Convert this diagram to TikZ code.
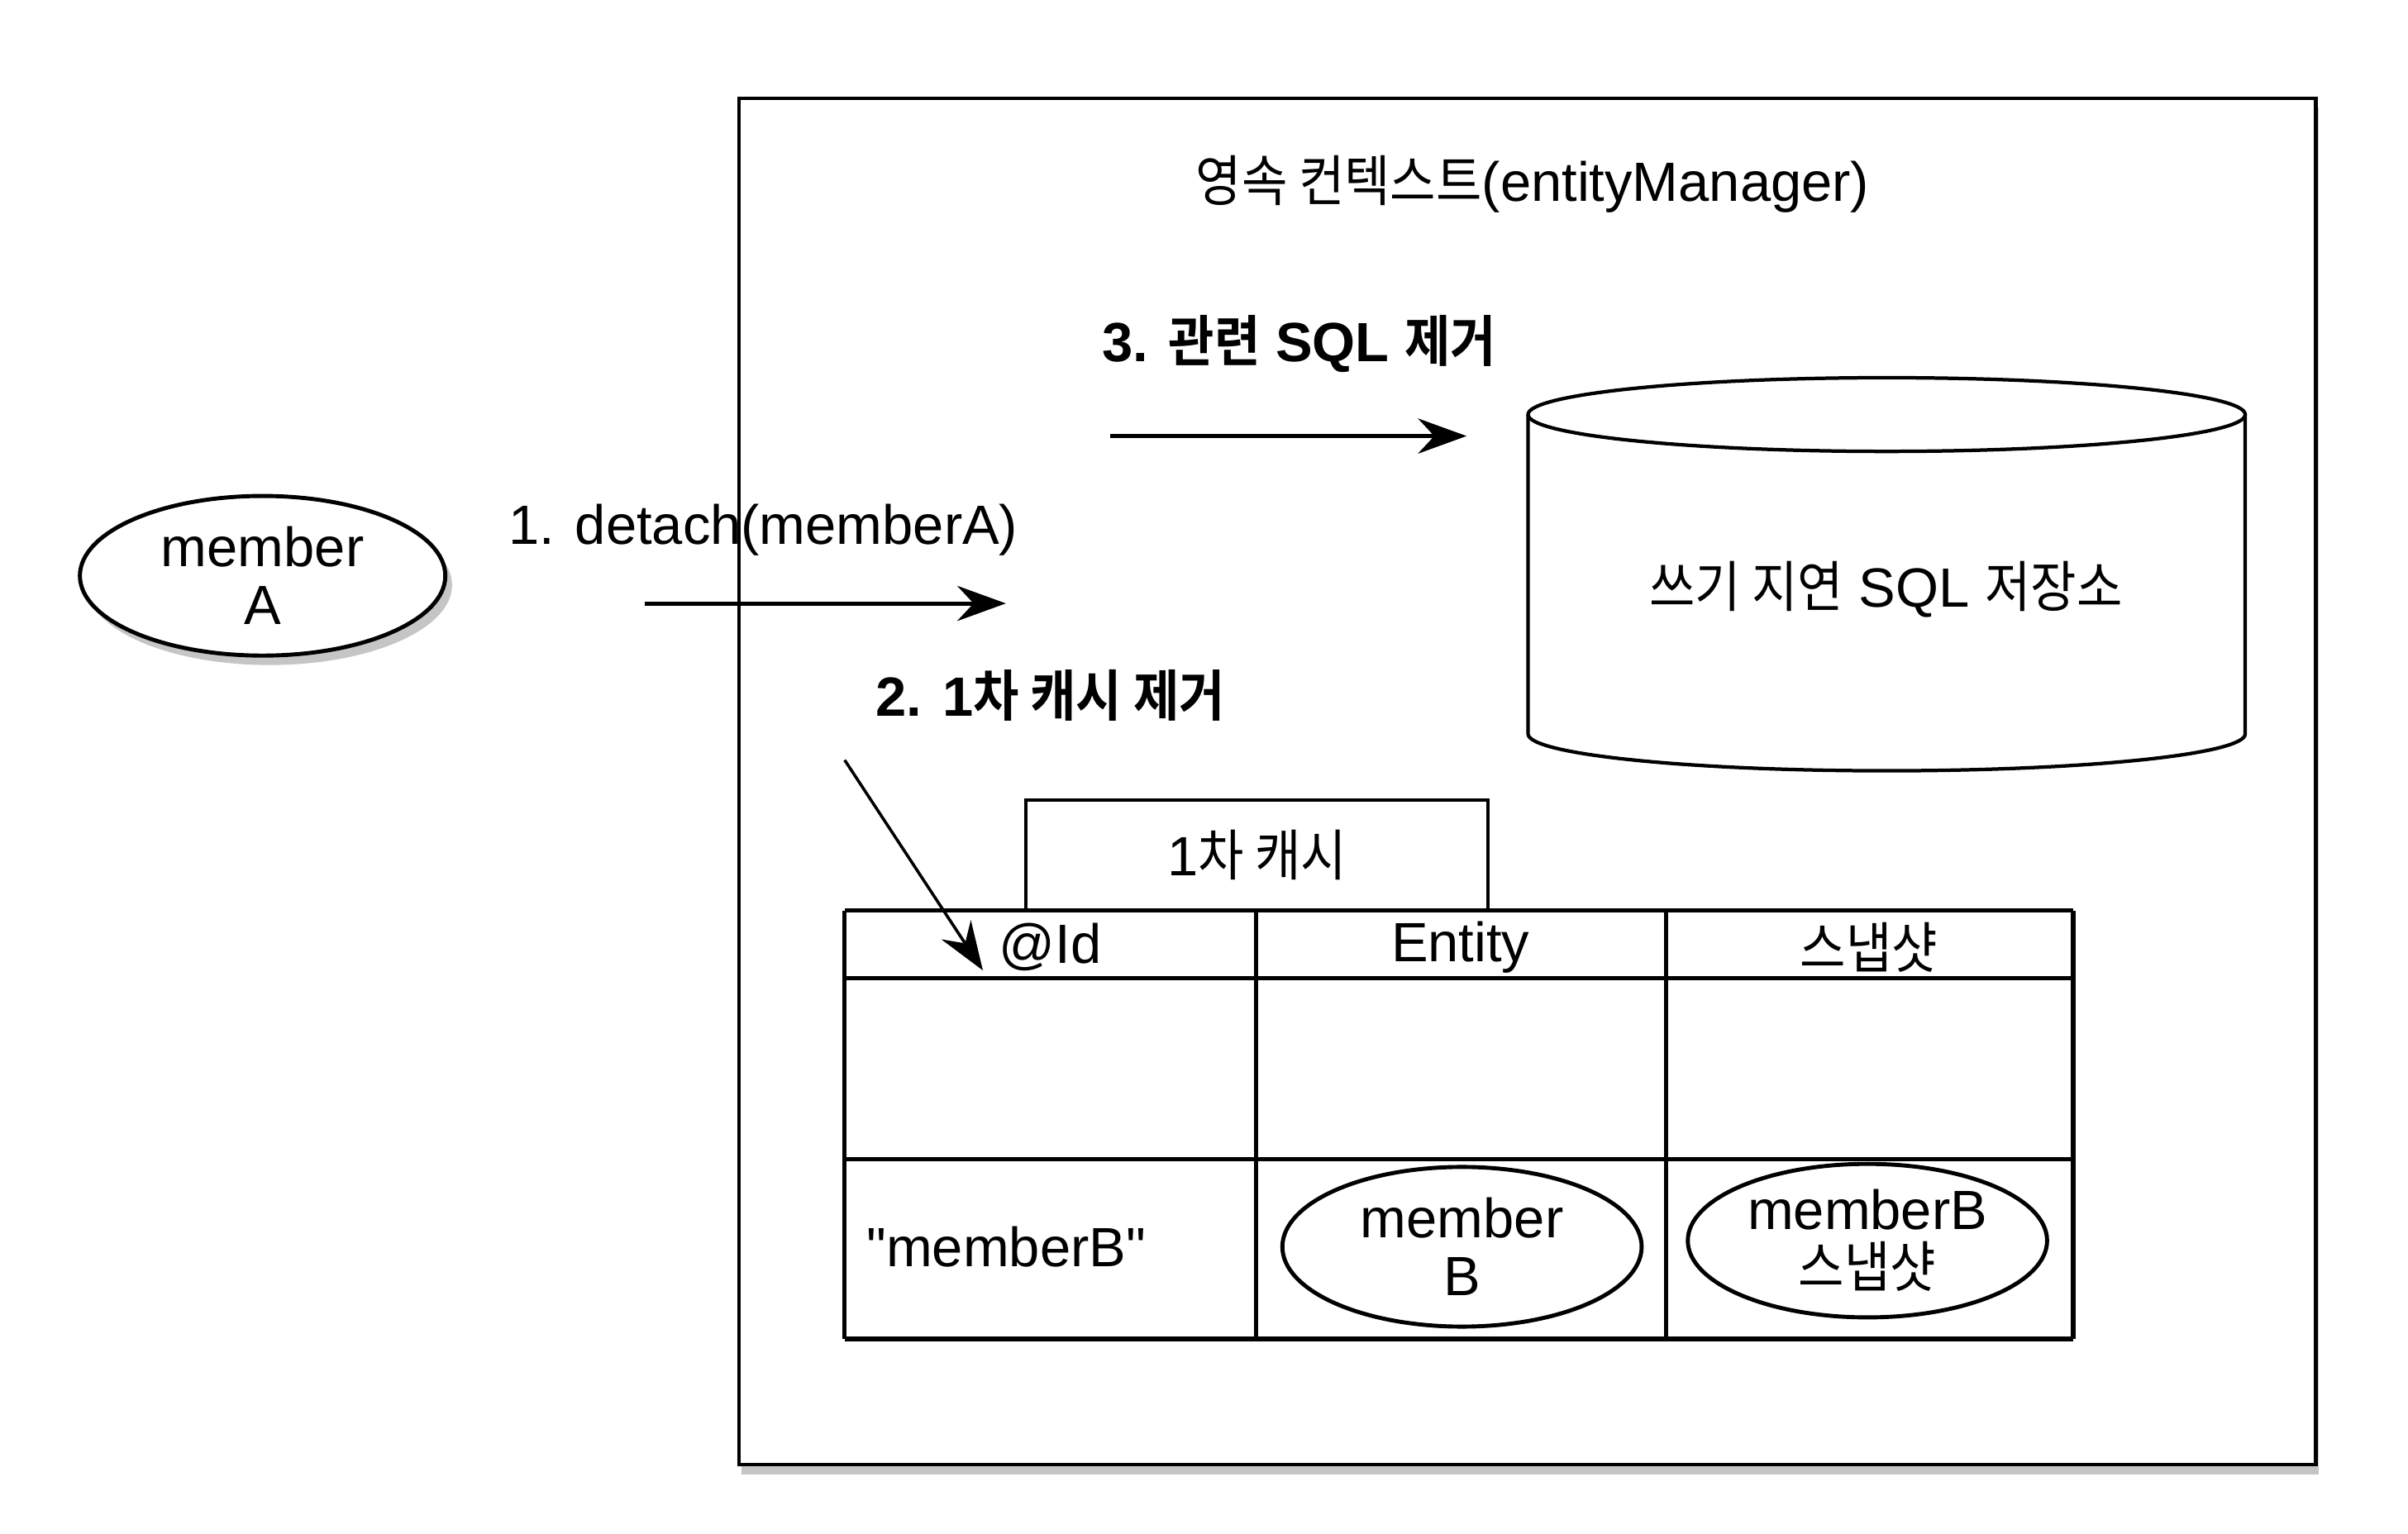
\documentclass[tikz,border=0pt]{standalone}
\usepackage{fontspec}
\setmainfont{Liberation Sans}
\newfontfamily\kofont[FakeStretch=0.9,BoldFont={Noto Sans CJK KR Bold}]{Noto Sans CJK KR}
\newcommand{\ko}[1]{{\kofont #1}}
\usepackage{tikz}
\usetikzlibrary{shadows}
\usetikzlibrary{positioning}
\usetikzlibrary{arrows.meta,shapes.geometric}
\tikzstyle{txt}=[font=\fontsize{20.5}{21.5}\selectfont, align=center, inner sep=0pt]
\tikzstyle{boldtxt}=[font=\fontsize{20.5}{21.5}\selectfont\bfseries, inner sep=0pt]
\tikzstyle{contextbox}=[draw, line width=1.3pt, fill=white, inner sep=0pt, minimum width=20.54cm, minimum height=17.8cm, drop shadow={shadow xshift=1pt, shadow yshift=-3.5pt, fill=black!45}]
\tikzstyle{membernode}=[ellipse, draw, line width=1.5pt, fill=white, inner sep=0pt, minimum width=4.68cm, minimum height=2.08cm, txt]
\tikzstyle{tabbox}=[draw, line width=1.3pt, inner sep=0pt, minimum width=6.02cm, minimum height=1.44cm, txt]
\tikzstyle{grid}=[draw, line width=1.6pt]
\tikzstyle{flow}=[draw, line width=1.5pt, -{Stealth[length=18pt, width=13pt, inset=6pt]}]
\tikzstyle{thinflow}=[draw, line width=1.1pt, -{Stealth[length=18pt, width=13pt, inset=6pt]}]

\begin{document}
\begin{tikzpicture}[x=0.02cm, y=0.02cm]
    \useasboundingbox (0,-5) rectangle (1568,994);
    % the persistence context
    \node[contextbox] (ctx) at (994.5,485) {};
    \node[txt] (title) at (998,874) {\ko{영속 컨텍스트}(entityManager)};

    % the write-behind store, drawn as a cylinder
    \draw[line width=1.3pt, fill=white] (995,724) -- (995,516) arc[start angle=180, end angle=360, x radius=233.5, y radius=24] -- (1462,724);
    \draw[line width=1.3pt] (1228.5,724) ellipse [x radius=233.5, y radius=24];
    \node[txt] (store) at (1228,610) {\ko{쓰기 지연} SQL \ko{저장소}};

    % the detached entity
    \node[membernode, minimum width=4.76cm, drop shadow={shadow xshift=2.5pt, shadow yshift=-3.5pt, fill=black!45}] (memberA) at (171,619) {member\\A};
    \node[txt] (detach) at (497,649) {1. detach(memberA)};
    \node[boldtxt] (step3) at (846,770) {3. \ko{관련} SQL \ko{제거}};
    \node[boldtxt] (step2) at (684,541) {2. 1\ko{차 캐시 제거}};

    % the first level cache
    \node[tabbox] (cache) at (818.5,437) {1\ko{차 캐시}};
    \foreach \x in {550,818,1085,1350}
        \draw[grid] (\x,401) -- (\x,122);
    \foreach \y in {401,357,239,122}
        \draw[grid] (550,\y) -- (1350,\y);
    \foreach \x/\name/\text in {684/idhead/@Id, 951/entityhead/Entity, 1217/snaphead/\ko{스냅샷}}
        \node[txt] (\name) at (\x,377) {\text};
    \node[txt, anchor=west] (keyB) at (564,182) {\textquotedbl memberB\textquotedbl};
    \node[membernode] (memberB) at (952,182) {member\\B};
    \node[membernode, minimum height=2cm] (snapB) at (1216,186) {memberB\\\ko{스냅샷}};

    % arrows
    \coordinate (detachstart) at (420,601);
    \coordinate (detachend) at (655,601);
    \coordinate (sqlstart) at (723,710);
    \coordinate (sqlend) at (955,710);
    \coordinate (cachestart) at (550,499);
    \coordinate (cacheend) at (640,362);
    \path[flow] (detachstart) -- (detachend);
    \path[flow] (sqlstart) -- (sqlend);
    \path[thinflow] (cachestart) -- (cacheend);
\end{tikzpicture}
\end{document}
